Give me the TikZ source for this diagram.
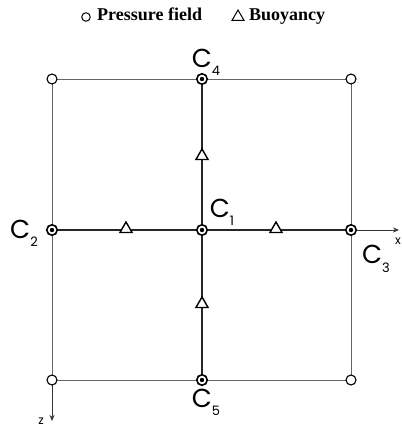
\documentclass[tikz,border=0pt]{standalone}
\usepackage{fontspec}
\setmainfont{Liberation Serif}
\newfontfamily\labfont{Poppins}
\usetikzlibrary{arrows.meta,shapes.geometric}
\tikzset{
  grid/.style={draw=black!60, line width=0.6pt},
  cross/.style={draw=black!85, line width=1.3pt},
  opendot/.style={circle, draw=black, line width=1.1pt, fill=white, minimum size=10pt, inner sep=0pt},
  cdot/.style={circle, draw=black, line width=1.6pt, fill=white, minimum size=10.5pt, inner sep=0pt, path picture={\fill[black] (path picture bounding box.center) circle (2.2pt);}},
  tri/.style={regular polygon, regular polygon sides=3, draw=black, line width=1.4pt, fill=white, minimum size=14pt, inner sep=0pt},
  clab/.style={font=\labfont\fontsize{26}{26}\selectfont, inner sep=0pt},
  leg/.style={font=\bfseries\fontsize{18}{18}\selectfont, inner sep=0pt, anchor=base west},
  axis/.style={draw=black!80, line width=0.6pt, -{Stealth[length=6pt,width=5pt]}}
}
\newcommand{\subn}[1]{\raisebox{-0.32em}{\fontsize{13}{13}\selectfont #1}}
\begin{document}
\begin{tikzpicture}[x=1pt,y=-1pt]
\useasboundingbox (0,0) rectangle (401,430);
% grid points
\coordinate (TL) at (52,79);
\coordinate (TR) at (351,79);
\coordinate (BL) at (52,380);
\coordinate (BR) at (351,380);
\coordinate (c1) at (202,230);
\coordinate (c2) at (52,230);
\coordinate (c3) at (351,230);
\coordinate (c4) at (202,79);
\coordinate (c5) at (202,380);
\coordinate (xend) at (399,230);
\coordinate (zend) at (52,421);
% grid
\draw[grid] (TL) -- (TR) -- (BR) -- (BL) -- cycle;
\draw[cross] (c2) -- (c3);
\draw[cross] (c4) -- (c5);
\draw[axis] (c3) -- (xend);
\draw[axis] (BL) -- (zend);
% dots
\node[opendot] (nTL) at (TL) {};
\node[opendot] (nTR) at (TR) {};
\node[opendot] (nBL) at (BL) {};
\node[opendot] (nBR) at (BR) {};
\node[cdot] (n1) at (c1) {};
\node[cdot] (n2) at (c2) {};
\node[cdot] (n3) at (c3) {};
\node[cdot] (n4) at (c4) {};
\node[cdot] (n5) at (c5) {};
% triangles
\node[tri] (t1) at (126,229) {};
\node[tri] (t2) at (276,229) {};
\node[tri] (t3) at (202,156) {};
\node[tri] (t4) at (202,304) {};
% labels
\node[clab] (l4) at (206,62) {C\subn{4}};
\node[clab] (l1) at (222,212) {C\subn{1}};
\node[clab] (l2) at (24,233) {C\subn{2}};
\node[clab] (l3) at (376,259) {C\subn{3}};
\node[clab] (l5) at (206,402) {C\subn{5}};
\node[font=\labfont\fontsize{12}{12}\selectfont, inner sep=0pt] (lx) at (398,241) {x};
\node[font=\labfont\fontsize{12}{12}\selectfont, inner sep=0pt] (lz) at (41,421) {z};
% legend
\node[circle, draw=black, line width=1pt, minimum size=8.5pt, inner sep=0pt] (lc) at (86,17) {};
\node[leg] (lp) at (97,21) {Pressure field};
\node[regular polygon, regular polygon sides=3, draw=black, line width=1pt, minimum size=14pt, inner sep=0pt] (lt) at (238,17) {};
\node[leg] (lb) at (249,21) {Buoyancy};
\end{tikzpicture}
\end{document}
